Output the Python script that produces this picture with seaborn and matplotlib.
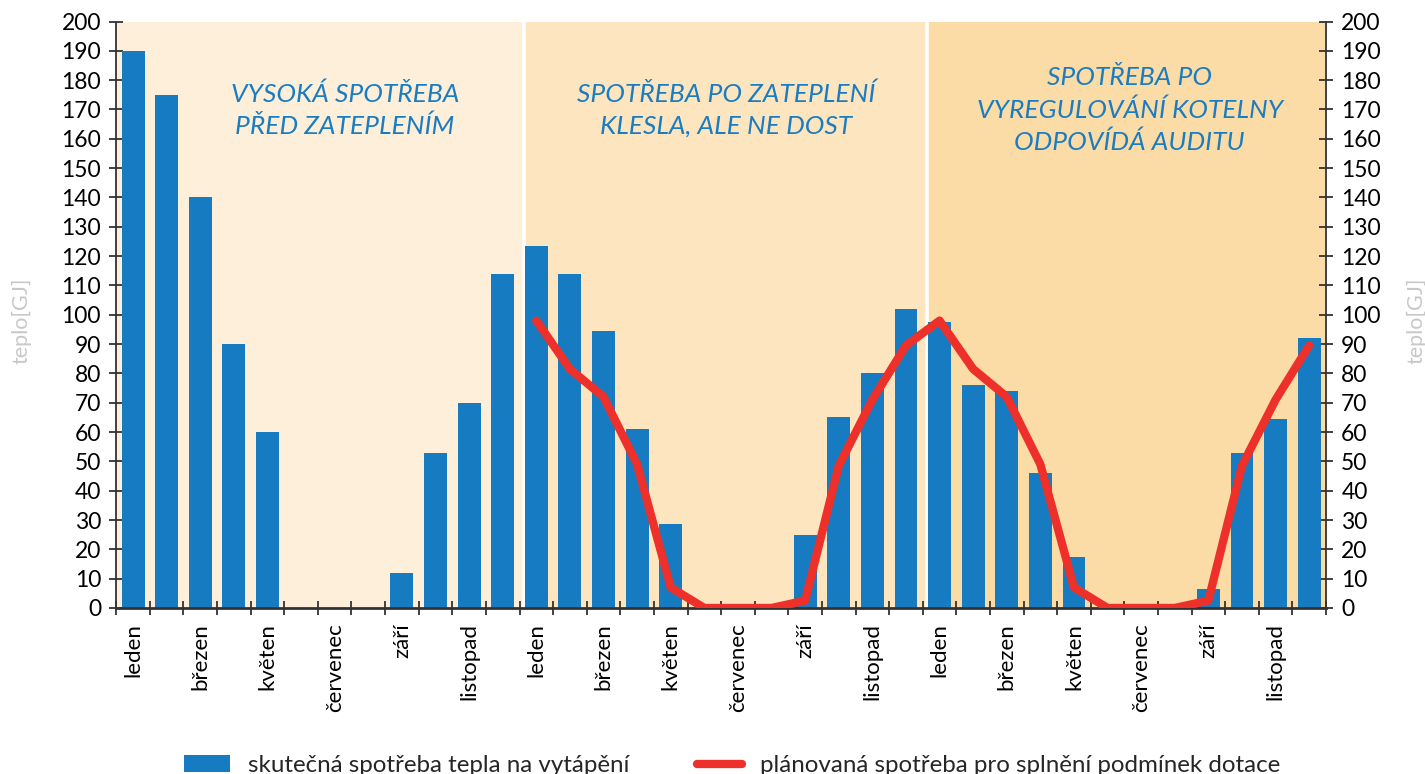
import matplotlib
matplotlib.use("Agg")
import matplotlib.pyplot as plt
from matplotlib.lines import Line2D
from matplotlib.patches import Patch
import pandas as pd
import seaborn as sns

# --- data -------------------------------------------------------------
month_names = ["leden", "únor", "březen", "duben", "květen", "červen",
               "červenec", "srpen", "září", "říjen", "listopad", "prosinec"]
n_years = 3

actual_y1 = [190, 175, 140, 90, 60, 0, 0, 0, 12, 53, 70, 114]
actual_y2 = [123.5, 114, 94.5, 61, 28.5, 0, 0, 0, 25, 65, 80, 102]
actual_y3 = [97.5, 76, 74, 46, 17.5, 0, 0, 0, 6.5, 53, 64.5, 92]

planned_y2 = [98, 81.5, 72, 49, 7, 0, 0, 0, 2.5, 48.5, 71, 89.5]
planned_y3 = [98, 81.5, 72, 49, 7, 0, 0, 0, 2.5, 48.5, 71, 89.5]

region_titles = ["VYSOKÁ SPOTŘEBA\nPŘED ZATEPLENÍM",
                 "SPOTŘEBA PO ZATEPLENÍ\nKLESLA, ALE NE DOST",
                 "SPOTŘEBA PO\nVYREGULOVÁNÍ KOTELNY\nODPOVÍDÁ AUDITU"]

label_actual = "skutečná spotřeba tepla na vytápění"
label_planned = "plánovaná spotřeba pro splnění podmínek dotace"

# --- styling ----------------------------------------------------------
sns.set_theme(style="white")
plt.rcParams["font.family"] = ["Lato", "DejaVu Sans"]

BAR = "#167bc0"
RED = "#ee302b"
TXT_BLUE = "#1a7cc1"
REGION_COLORS = ["#fdefda", "#fde6bf", "#fcdca6"]
AXIS = "#333333"

actual = actual_y1 + actual_y2 + actual_y3
df = pd.DataFrame({"pos": range(len(actual)), "value": actual})
plan = planned_y2 + planned_y3
df_plan = pd.DataFrame({"pos": range(12, 12 + len(plan)), "value": plan})

fig = plt.figure(figsize=(14.25, 7.74), dpi=100)
ax = fig.add_axes([0.0816, 0.2145, 0.8489, 0.7577])

# background bands per year
bounds = [-0.5, 11.63, 23.64, 35.5]
for i in range(n_years):
    ax.axvspan(bounds[i], bounds[i + 1], color=REGION_COLORS[i], lw=0, zorder=0)
for b in bounds[1:-1]:
    ax.axvline(b, color="white", lw=2.6, zorder=0.5)

sns.barplot(data=df, x="pos", y="value", color=BAR, width=0.68,
            saturation=1, edgecolor="none", linewidth=0, ax=ax, zorder=2)
sns.lineplot(data=df_plan, x="pos", y="value", color=RED, lw=6,
             ax=ax, zorder=3)

ax.set_xlim(-0.5, 35.5)
ax.set_ylim(0, 200)
ax.set_xlabel("")
ax.set_ylabel("")

# region captions
centers_x = [6.31, 17.64, 29.66]
for title, cx in zip(region_titles, centers_x):
    ax.text(cx, 169.8, title, ha="center", va="center", color=TXT_BLUE,
            fontsize=19, fontstyle="italic", linespacing=1.45, zorder=4)

# y axis both sides
ax.set_yticks(range(0, 201, 10))
ax.yaxis.set_ticks_position("both")
ax.tick_params(axis="y", which="major", direction="inout", length=10,
               width=1.3, colors=AXIS, labelsize=16.5, labelcolor="black",
               labelleft=True, labelright=True, pad=6)

# x axis: ticks at month boundaries, labels every second month
ax.set_xticks([i - 0.5 for i in range(len(actual) + 1)])
ax.set_xticklabels([])
ax.tick_params(axis="x", which="major", direction="inout", length=10,
               width=1.3, colors=AXIS, bottom=True)
label_pos = list(range(0, len(actual), 2))
ax.set_xticks(label_pos, minor=True)
ax.set_xticklabels([month_names[p % 12] for p in label_pos], minor=True,
                   rotation=90, fontsize=16)
ax.tick_params(axis="x", which="minor", length=0, pad=11, labelcolor="black")

ax.spines["top"].set_visible(False)
for side in ["left", "right"]:
    ax.spines[side].set_color(AXIS)
    ax.spines[side].set_linewidth(1.3)
ax.spines["bottom"].set_color(AXIS)
ax.spines["bottom"].set_linewidth(2)
ax.set_zorder(1)

# axis titles
for xpos in [0.0147, 0.9937]:
    fig.text(xpos, 0.585, "teplo[GJ]", rotation=90, ha="center", va="center",
             color="#c8c8c8", fontsize=15.5)

# legend
handles = [Patch(facecolor=BAR, edgecolor="none", label=label_actual),
           Line2D([0], [0], color=RED, lw=6, solid_capstyle="round",
                  label=label_planned)]
fig.legend(handles=handles, loc="center", ncol=2, frameon=False,
           bbox_to_anchor=(0.514, 0.011), fontsize=17.4, handlelength=1.87,
           handleheight=0.65, handletextpad=0.75, columnspacing=2.8)

fig.savefig("out.png", dpi=100)
